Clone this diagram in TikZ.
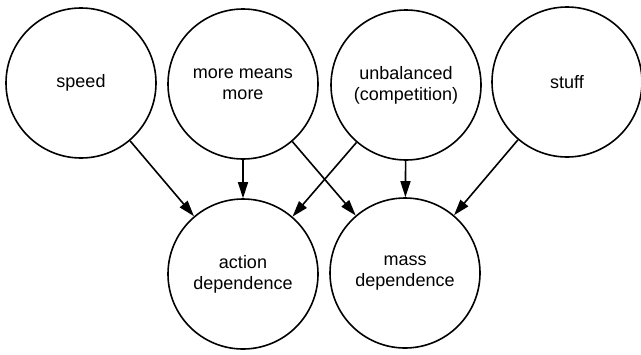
\documentclass[tikz,border=0pt]{standalone}
\usepackage{fontspec}
\setmainfont{Liberation Sans}
\usepackage{tikz}
\usetikzlibrary{arrows.meta,positioning}

\begin{document}
\begin{tikzpicture}[x=0.5pt,y=-0.5pt,
    factor/.style={draw,circle,line width=0.8pt,minimum size=75pt,inner sep=0pt,
      align=center,font=\fontsize{9}{10.5}\selectfont},
    dep/.style={line width=0.8pt,-{Triangle[length=8pt,width=5pt]}}]
      \useasboundingbox (0,0) rectangle (641,354);
      \path
      (81,83) node[factor](speed) {speed}
      (243,84) node[factor](more) {more means\\more}
      (406,85) node[factor](unbal) {unbalanced\\(competition)}
      (567,82) node[factor](stuff) {stuff}
      (243,274) node[factor](action) {action\\dependence}
      (405,273) node[factor](mass) {mass\\dependence}
      ;

      \draw[dep] (speed) -- (action);
      \draw[dep] (more) -- (action);
      \draw[dep] (more) -- (mass);
      \draw[dep] (unbal) -- (action);
      \draw[dep] (unbal) -- (mass);
      \draw[dep] (stuff) -- (mass);
    \end{tikzpicture}
\end{document}
